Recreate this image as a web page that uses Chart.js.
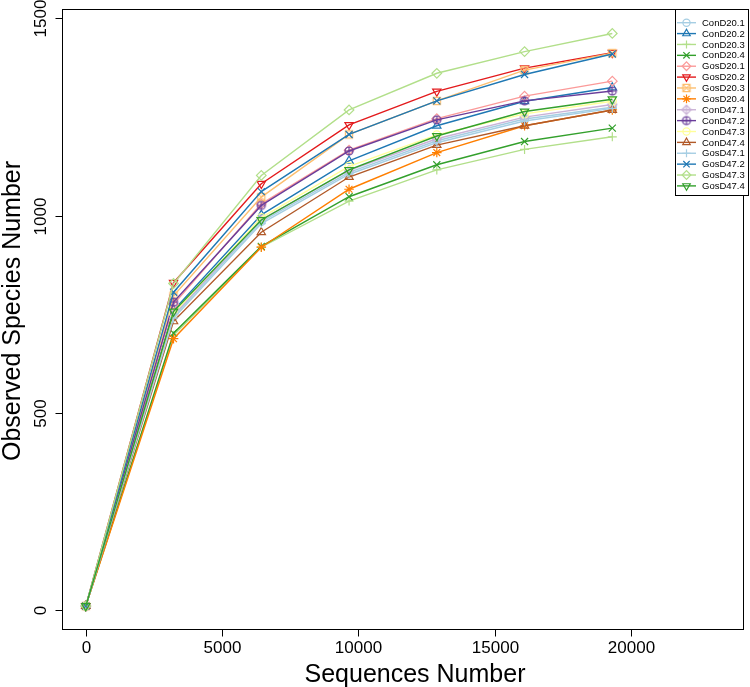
<!DOCTYPE html>
<html>
<head>
<meta charset="utf-8">
<script src="https://cdn.jsdelivr.net/npm/chart.js@4/dist/chart.umd.min.js"></script>
<style>
html,body{margin:0;padding:0;background:#fff;}
#wrap{width:750px;height:687px;position:relative;}
</style>
</head>
<body>
<div id="wrap"><canvas id="c" width="750" height="687"></canvas></div>
<script>
// ---- data ----
const seqNumbers = [0, 3220, 6440, 9660, 12880, 16100, 19320];
const seriesNames = ["ConD20.1","ConD20.2","ConD20.3","ConD20.4","GosD20.1","GosD20.2","GosD20.3","GosD20.4",
                     "ConD47.1","ConD47.2","ConD47.3","ConD47.4","GosD47.1","GosD47.2","GosD47.3","GosD47.4"];
const ConD20_1 = [10, 745, 985, 1110, 1190, 1245, 1275];
const ConD20_2 = [10, 760, 1002, 1139, 1228, 1290, 1325];
const ConD20_3 = [10, 697, 920, 1037, 1116, 1168, 1200];
const ConD20_4 = [10, 702, 922, 1048, 1129, 1188, 1222];
const GosD20_1 = [10, 775, 1030, 1166, 1246, 1303, 1341];
const GosD20_2 = [10, 830, 1081, 1230, 1315, 1374, 1413];
const GosD20_3 = [10, 797, 1047, 1206, 1291, 1369, 1412];
const GosD20_4 = [10, 688, 920, 1067, 1160, 1228, 1268];
const ConD47_1 = [10, 748, 990, 1115, 1195, 1250, 1282];
const ConD47_2 = [10, 781, 1026, 1164, 1243, 1291, 1316];
const ConD47_3 = [10, 752, 995, 1125, 1205, 1258, 1290];
const ConD47_4 = [10, 732, 958, 1098, 1179, 1228, 1268];
const GosD47_1 = [10, 740, 980, 1105, 1185, 1240, 1272];
const GosD47_2 = [10, 806, 1061, 1206, 1291, 1358, 1410];
const GosD47_3 = [10, 828, 1102, 1268, 1361, 1416, 1462];
const GosD47_4 = [10, 757, 989, 1116, 1202, 1264, 1295];
const seriesValues = [ConD20_1, ConD20_2, ConD20_3, ConD20_4, GosD20_1, GosD20_2, GosD20_3, GosD20_4,
                      ConD47_1, ConD47_2, ConD47_3, ConD47_4, GosD47_1, GosD47_2, GosD47_3, GosD47_4];
const xTicks = [0, 5000, 10000, 15000, 20000];
const yTicks = [0, 500, 1000, 1500];
const xTitle = "Sequences Number";
const yTitle = "Observed Species Number";

// ---- style ----
const palette = ["#A6CEE3","#1F78B4","#B2DF8A","#33A02C","#FB9A99","#E31A1C","#FDBF6F","#FF7F00",
                 "#CAB2D6","#6A3D9A","#FFFF99","#B15928"];
const LW = 1.2;
function mk(color, fn){
  const cv = document.createElement('canvas');
  cv.width = 12; cv.height = 12;
  const g = cv.getContext('2d');
  g.strokeStyle = color; g.lineWidth = LW;
  g.beginPath(); fn(g, 6, 6); g.stroke();
  return cv;
}
function sqX(color){ return mk(color,(g,x,y)=>{ const h=3.6; g.rect(x-h,y-h,2*h,2*h); g.moveTo(x-h,y-h); g.lineTo(x+h,y+h); g.moveTo(x+h,y-h); g.lineTo(x-h,y+h); }); }
function circPlus(color){ return mk(color,(g,x,y)=>{ const r=4; g.arc(x,y,r,0,Math.PI*2); g.moveTo(x-r,y); g.lineTo(x+r,y); g.moveTo(x,y-r); g.lineTo(x,y+r); }); }
function diaPlus(color){ return mk(color,(g,x,y)=>{ const r=4.6; g.moveTo(x,y-r); g.lineTo(x+r,y); g.lineTo(x,y+r); g.lineTo(x-r,y); g.closePath(); g.moveTo(x-r,y); g.lineTo(x+r,y); g.moveTo(x,y-r); g.lineTo(x,y+r); }); }
// R pch 1..10 cycle
function marker(i, color){
  const p = i % 10;
  switch(p){
    case 0: return {style:'circle', r:4, rot:0};
    case 1: return {style:'triangle', r:4.8, rot:0};
    case 2: return {style:'cross', r:4.5, rot:0};
    case 3: return {style:'crossRot', r:5, rot:0};
    case 4: return {style:'rectRot', r:4.8, rot:0};
    case 5: return {style:'triangle', r:4.8, rot:180};
    case 6: return {style:sqX(color), r:5, rot:0};
    case 7: return {style:'star', r:4.8, rot:0};
    case 8: return {style:diaPlus(color), r:5, rot:0};
    case 9: return {style:circPlus(color), r:5, rot:0};
  }
}

const datasets = seriesNames.map((name, i) => {
  const color = palette[i % 12];
  const m = marker(i, color);
  return {
    label: name,
    data: seqNumbers.map((x, k) => ({x: x, y: seriesValues[i][k]})),
    borderColor: color,
    backgroundColor: 'rgba(0,0,0,0)',
    borderWidth: 1.4,
    pointStyle: m.style,
    pointRadius: m.r,
    pointRotation: m.rot,
    pointBorderColor: color,
    pointBackgroundColor: 'rgba(0,0,0,0)',
    pointBorderWidth: LW,
    tension: 0,
    fill: false,
    order: seriesNames.length - i
  };
});

const FONT = '"Liberation Sans", Arial, Helvetica, sans-serif';

const rAxes = {
  id: 'rAxes',
  afterDraw(chart){
    const ctx = chart.ctx, a = chart.chartArea;
    const xs = chart.scales.x, ys = chart.scales.y;
    ctx.save();
    ctx.strokeStyle = '#000'; ctx.lineWidth = 1;
    ctx.strokeRect(Math.round(a.left)+0.5, Math.round(a.top)+0.5, Math.round(a.right-a.left)-1, Math.round(a.bottom-a.top));
    ctx.fillStyle = '#000';
    // x ticks
    ctx.font = '17px ' + FONT;
    ctx.textAlign = 'center'; ctx.textBaseline = 'middle';
    const yb = Math.round(a.bottom) + 0.5;
    xTicks.forEach(t => {
      const px = Math.round(xs.getPixelForValue(t)) + 0.5;
      ctx.beginPath(); ctx.moveTo(px, yb); ctx.lineTo(px, yb + 7); ctx.stroke();
      ctx.fillText(String(t), px, 648);
    });
    // y ticks
    const xl = Math.round(a.left) + 0.5;
    yTicks.forEach(t => {
      const py = Math.round(ys.getPixelForValue(t)) + 0.5;
      ctx.beginPath(); ctx.moveTo(xl, py); ctx.lineTo(xl - 7, py); ctx.stroke();
      ctx.save(); ctx.translate(41, py); ctx.rotate(-Math.PI/2);
      ctx.fillText(String(t), 0, 0); ctx.restore();
    });
    // titles
    ctx.font = '25px ' + FONT;
    ctx.fillText(xTitle, 415, 675);
    ctx.save(); ctx.translate(13, (a.top + a.bottom) / 2 - 8); ctx.rotate(-Math.PI/2);
    ctx.fillText(yTitle, 0, 0); ctx.restore();

    // legend
    const L = 675, R = 749, T = Math.round(a.top), B = 195;
    ctx.fillStyle = '#fff';
    ctx.fillRect(L, T, R - L, B - T);
    ctx.strokeStyle = '#000';
    ctx.strokeRect(L + 0.5, T + 0.5, R - L - 1, B - T);
    ctx.font = '9.5px ' + FONT;
    ctx.textAlign = 'left'; ctx.textBaseline = 'middle';
    chart.data.datasets.forEach((ds, i) => {
      const y = 22.7 + i * 10.88;
      ctx.strokeStyle = ds.borderColor; ctx.lineWidth = 1.4;
      ctx.beginPath(); ctx.moveTo(677, y); ctx.lineTo(696, y); ctx.stroke();
      ctx.lineWidth = LW;
      ctx.fillStyle = 'rgba(0,0,0,0)';
      if (Chart.helpers && Chart.helpers.drawPoint) {
        Chart.helpers.drawPoint(ctx, {pointStyle: ds.pointStyle, radius: ds.pointRadius * 0.9, rotation: ds.pointRotation, borderWidth: LW}, 686.5, y);
      }
      ctx.fillStyle = '#000';
      ctx.fillText(ds.label, 702, y + 0.5);
    });
    ctx.restore();
  }
};

new Chart(document.getElementById('c'), {
  type: 'line',
  data: { datasets },
  options: {
    responsive: false,
    animation: false,
    events: [],
    layout: { padding: { left: 62, top: 9, right: 1, bottom: 58 } },
    plugins: { legend: { display: false }, tooltip: { enabled: false } },
    scales: {
      x: { type: 'linear', min: -873, max: 24145, display: false },
      y: { type: 'linear', min: -48, max: 1524, display: false }
    }
  },
  plugins: [rAxes]
});
</script>
</body>
</html>
